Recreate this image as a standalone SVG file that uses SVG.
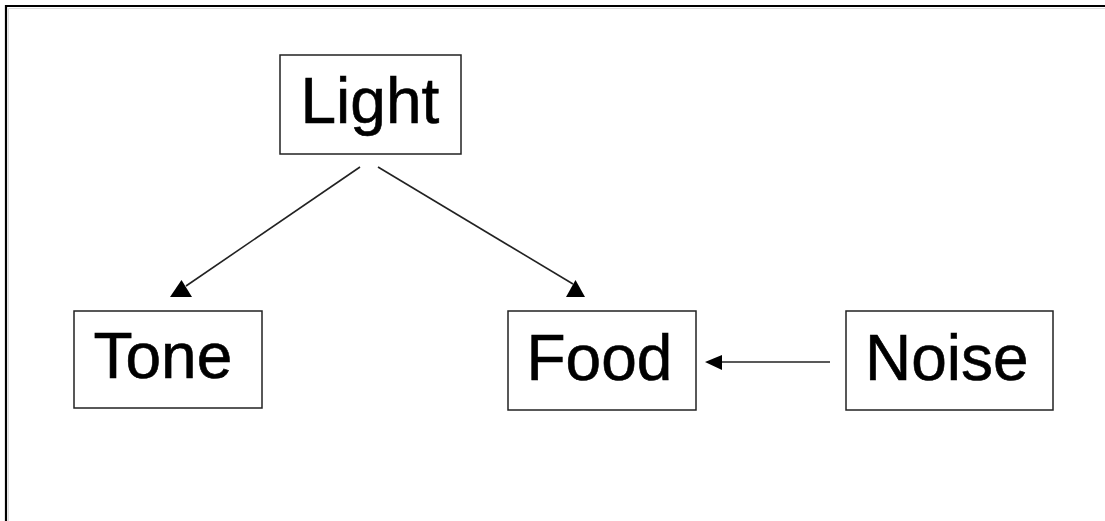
<svg xmlns="http://www.w3.org/2000/svg" width="1105" height="521" viewBox="0 0 1105 521">
<style>
.box{fill:#fff;stroke:#222;stroke-width:1.5}
.lbl{font-family:"Liberation Sans",Arial,sans-serif;font-size:64px;fill:#000;stroke:#000;stroke-width:0.6}
.edge{stroke:#222;stroke-width:1.6;fill:none}
.head{fill:#000}
</style>
<rect width="1105" height="521" fill="#fff"/>
<path d="M6,521 V6 H1105" fill="none" stroke="#000" stroke-width="2.2"/>
<path d="M8.5,521 V8.5 H1105" fill="none" stroke="#ddd" stroke-width="1"/>
<g id="connectors">
<line class="edge" x1="360" y1="167" x2="186" y2="286"/>
<polygon class="head" points="170,297 192,297 181.5,280"/>
<line class="edge" x1="378" y1="167" x2="573" y2="284"/>
<polygon class="head" points="566,297 585,297 575.5,280"/>
<line class="edge" x1="830" y1="362" x2="718" y2="362"/>
<polygon class="head" points="705,362 722,355 722,370"/>
</g>
<g id="light"><rect class="box" x="280" y="55" width="181" height="99"/><text class="lbl" x="300.5" y="123">Light</text></g>
<g id="tone"><rect class="box" x="74" y="311" width="188" height="97"/><text class="lbl" x="93.5" y="378">Tone</text></g>
<g id="food"><rect class="box" x="508" y="311" width="188" height="99"/><text class="lbl" x="526.5" y="380">Food</text></g>
<g id="noise"><rect class="box" x="846" y="311" width="207" height="99"/><text class="lbl" x="865" y="380">Noise</text></g>
</svg>
